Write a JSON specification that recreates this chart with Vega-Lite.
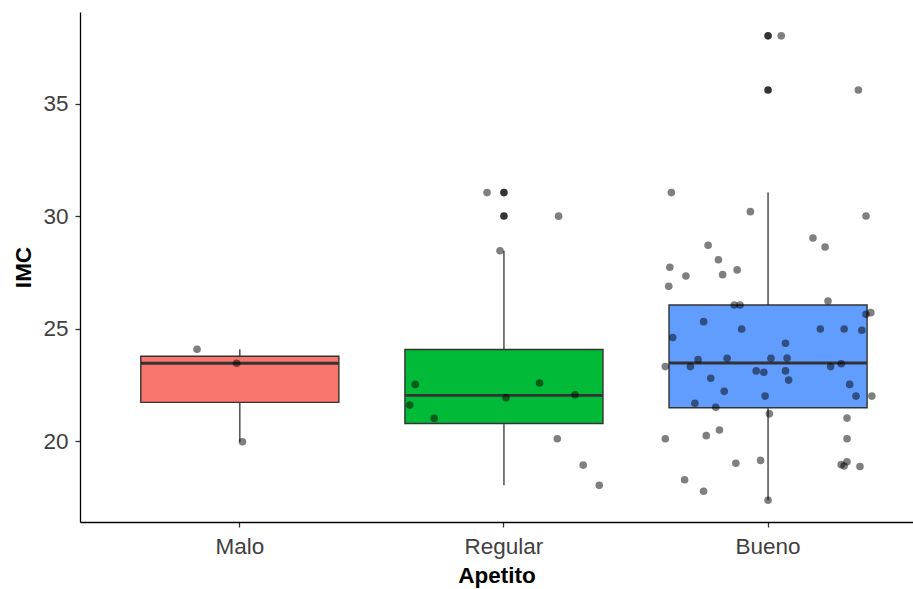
{
  "$schema": "https://vega.github.io/schema/vega-lite/v6.json",
  "autosize": "none",
  "width": 833,
  "height": 510,
  "padding": {"left": 80, "top": 12, "right": 0, "bottom": 67},
  "background": "white",
  "config": {
    "view": {"stroke": null},
    "font": "Liberation Sans",
    "axis": {"grid": false, "domainColor": "black", "domainWidth": 1.3, "tickColor": "#333333", "tickWidth": 1.3, "tickSize": 5, "labelColor": "#404040", "labelFontSize": 22.5, "titleFontSize": 22.5, "titleFontWeight": "bold", "titleColor": "black", "labelFont": "Liberation Sans", "titleFont": "Liberation Sans"}
  },
  "datasets": {
    "stats": [
      {"Apetito": "Malo", "lower": 19.97, "q1": 21.72, "median": 23.46, "q3": 23.77, "upper": 24.08},
      {"Apetito": "Regular", "lower": 18.03, "q1": 20.78, "median": 22.03, "q3": 24.07, "upper": 28.46},
      {"Apetito": "Bueno", "lower": 17.37, "q1": 21.48, "median": 23.47, "q3": 26.05, "upper": 31.05}
    ],
    "outliers": [
      {"Apetito": "Regular", "IMC": 31.05},
      {"Apetito": "Regular", "IMC": 30.01},
      {"Apetito": "Bueno", "IMC": 38.02},
      {"Apetito": "Bueno", "IMC": 35.61}
    ],
    "points": [
      {"Apetito": "Malo", "IMC": 24.08, "jitter": -0.162},
      {"Apetito": "Malo", "IMC": 23.46, "jitter": -0.012},
      {"Apetito": "Malo", "IMC": 19.97, "jitter": 0.01},
      {"Apetito": "Regular", "IMC": 31.05, "jitter": -0.064},
      {"Apetito": "Regular", "IMC": 30.0, "jitter": 0.207},
      {"Apetito": "Regular", "IMC": 28.46, "jitter": -0.015},
      {"Apetito": "Regular", "IMC": 22.52, "jitter": -0.336},
      {"Apetito": "Regular", "IMC": 21.6, "jitter": -0.357},
      {"Apetito": "Regular", "IMC": 21.01, "jitter": -0.264},
      {"Apetito": "Regular", "IMC": 21.93, "jitter": 0.008},
      {"Apetito": "Regular", "IMC": 22.58, "jitter": 0.135},
      {"Apetito": "Regular", "IMC": 22.06, "jitter": 0.269},
      {"Apetito": "Regular", "IMC": 20.1, "jitter": 0.202},
      {"Apetito": "Regular", "IMC": 18.93, "jitter": 0.3},
      {"Apetito": "Regular", "IMC": 18.03, "jitter": 0.361},
      {"Apetito": "Bueno", "IMC": 38.02, "jitter": 0.05},
      {"Apetito": "Bueno", "IMC": 35.61, "jitter": 0.342},
      {"Apetito": "Bueno", "IMC": 31.05, "jitter": -0.366},
      {"Apetito": "Bueno", "IMC": 30.2, "jitter": -0.067},
      {"Apetito": "Bueno", "IMC": 30.01, "jitter": 0.371},
      {"Apetito": "Bueno", "IMC": 29.03, "jitter": 0.17},
      {"Apetito": "Bueno", "IMC": 28.71, "jitter": -0.227},
      {"Apetito": "Bueno", "IMC": 28.63, "jitter": 0.216},
      {"Apetito": "Bueno", "IMC": 28.06, "jitter": -0.188},
      {"Apetito": "Bueno", "IMC": 27.73, "jitter": -0.372},
      {"Apetito": "Bueno", "IMC": 27.61, "jitter": -0.117},
      {"Apetito": "Bueno", "IMC": 27.4, "jitter": -0.172},
      {"Apetito": "Bueno", "IMC": 27.34, "jitter": -0.311},
      {"Apetito": "Bueno", "IMC": 26.88, "jitter": -0.376},
      {"Apetito": "Bueno", "IMC": 26.23, "jitter": 0.227},
      {"Apetito": "Bueno", "IMC": 26.05, "jitter": -0.128},
      {"Apetito": "Bueno", "IMC": 26.05, "jitter": -0.106},
      {"Apetito": "Bueno", "IMC": 25.71, "jitter": 0.389},
      {"Apetito": "Bueno", "IMC": 25.64, "jitter": 0.371},
      {"Apetito": "Bueno", "IMC": 25.31, "jitter": -0.244},
      {"Apetito": "Bueno", "IMC": 24.98, "jitter": -0.1},
      {"Apetito": "Bueno", "IMC": 24.98, "jitter": 0.198},
      {"Apetito": "Bueno", "IMC": 24.98, "jitter": 0.288},
      {"Apetito": "Bueno", "IMC": 24.93, "jitter": 0.355},
      {"Apetito": "Bueno", "IMC": 24.6, "jitter": -0.361},
      {"Apetito": "Bueno", "IMC": 24.35, "jitter": 0.066},
      {"Apetito": "Bueno", "IMC": 23.69, "jitter": 0.072},
      {"Apetito": "Bueno", "IMC": 23.68, "jitter": -0.155},
      {"Apetito": "Bueno", "IMC": 23.68, "jitter": 0.011},
      {"Apetito": "Bueno", "IMC": 23.62, "jitter": -0.265},
      {"Apetito": "Bueno", "IMC": 23.44, "jitter": 0.277},
      {"Apetito": "Bueno", "IMC": 23.31, "jitter": -0.389},
      {"Apetito": "Bueno", "IMC": 23.31, "jitter": -0.294},
      {"Apetito": "Bueno", "IMC": 23.31, "jitter": 0.237},
      {"Apetito": "Bueno", "IMC": 23.12, "jitter": -0.045},
      {"Apetito": "Bueno", "IMC": 23.12, "jitter": 0.066},
      {"Apetito": "Bueno", "IMC": 23.06, "jitter": -0.016},
      {"Apetito": "Bueno", "IMC": 22.79, "jitter": -0.217},
      {"Apetito": "Bueno", "IMC": 22.71, "jitter": 0.078},
      {"Apetito": "Bueno", "IMC": 22.52, "jitter": 0.309},
      {"Apetito": "Bueno", "IMC": 22.21, "jitter": -0.166},
      {"Apetito": "Bueno", "IMC": 22.0, "jitter": -0.011},
      {"Apetito": "Bueno", "IMC": 22.0, "jitter": 0.333},
      {"Apetito": "Bueno", "IMC": 22.0, "jitter": 0.393},
      {"Apetito": "Bueno", "IMC": 21.68, "jitter": -0.277},
      {"Apetito": "Bueno", "IMC": 21.5, "jitter": -0.198},
      {"Apetito": "Bueno", "IMC": 21.21, "jitter": 0.005},
      {"Apetito": "Bueno", "IMC": 21.02, "jitter": 0.299},
      {"Apetito": "Bueno", "IMC": 20.49, "jitter": -0.184},
      {"Apetito": "Bueno", "IMC": 20.24, "jitter": -0.234},
      {"Apetito": "Bueno", "IMC": 20.1, "jitter": -0.389},
      {"Apetito": "Bueno", "IMC": 20.1, "jitter": 0.299},
      {"Apetito": "Bueno", "IMC": 19.14, "jitter": -0.028},
      {"Apetito": "Bueno", "IMC": 19.08, "jitter": 0.299},
      {"Apetito": "Bueno", "IMC": 19.01, "jitter": -0.122},
      {"Apetito": "Bueno", "IMC": 18.95, "jitter": 0.277},
      {"Apetito": "Bueno", "IMC": 18.89, "jitter": 0.288},
      {"Apetito": "Bueno", "IMC": 18.87, "jitter": 0.348},
      {"Apetito": "Bueno", "IMC": 18.28, "jitter": -0.316},
      {"Apetito": "Bueno", "IMC": 17.77, "jitter": -0.244},
      {"Apetito": "Bueno", "IMC": 17.37, "jitter": 0.0}
    ]
  },
  "encoding": {
    "x": {
      "field": "Apetito", "type": "nominal", "sort": ["Malo", "Regular", "Bueno"],
      "scale": {"domain": ["Malo", "Regular", "Bueno"], "paddingInner": 0, "paddingOuter": 0.077, "align": 0.683},
      "axis": {"title": "Apetito", "labelAngle": 0, "labelPadding": 8, "titlePadding": 7}
    }
  },
  "resolve": {"scale": {"xOffset": "independent"}},
  "layer": [
    {
      "data": {"name": "stats"},
      "mark": {"type": "rule", "color": "#333333", "strokeWidth": 1.3},
      "encoding": {
        "y": {"field": "lower", "type": "quantitative", "scale": {"domain": [16.4, 39.08], "nice": false, "zero": false}, "axis": {"title": "IMC", "values": [20, 25, 30, 35], "labelPadding": 7, "titlePadding": 7}},
        "y2": {"field": "upper"}
      }
    },
    {
      "data": {"name": "stats"},
      "mark": {"type": "bar", "width": {"band": 0.75}, "stroke": "#333333", "strokeWidth": 1.4, "opacity": 1},
      "encoding": {
        "y": {"field": "q1", "type": "quantitative"},
        "y2": {"field": "q3"},
        "color": {"field": "Apetito", "type": "nominal", "scale": {"domain": ["Malo", "Regular", "Bueno"], "range": ["#F8766D", "#00BA38", "#619CFF"]}, "legend": null}
      }
    },
    {
      "data": {"name": "stats"},
      "mark": {"type": "tick", "color": "#333333", "thickness": 2.8, "size": 198, "opacity": 1},
      "encoding": {
        "y": {"field": "median", "type": "quantitative"}
      }
    },
    {
      "data": {"name": "outliers"},
      "mark": {"type": "circle", "color": "#333333", "size": 58, "opacity": 1},
      "encoding": {
        "y": {"field": "IMC", "type": "quantitative"}
      }
    },
    {
      "data": {"name": "points"},
      "mark": {"type": "circle", "color": "black", "size": 58, "opacity": 0.5},
      "encoding": {
        "y": {"field": "IMC", "type": "quantitative"},
        "xOffset": {"field": "jitter", "type": "quantitative", "scale": {"domain": [-0.5, 0.5]}}
      }
    }
  ]
}
